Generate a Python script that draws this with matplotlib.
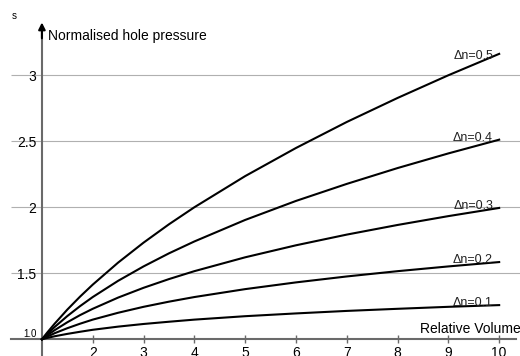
import matplotlib.pyplot as plt

plt.rcParams['font.family'] = ['Liberation Sans', 'DejaVu Sans']

# Relative volume samples and normalised hole pressure for each dilation step
volume = [1, 1.1, 1.25, 1.5, 1.75, 2, 2.5, 3, 3.5, 4, 5, 6, 7, 8, 9, 10]
pressure = {
    '0.1': [1, 1.010, 1.023, 1.041, 1.057, 1.072, 1.096, 1.116, 1.133, 1.149,
            1.175, 1.196, 1.215, 1.231, 1.246, 1.259],
    '0.2': [1, 1.019, 1.046, 1.084, 1.118, 1.149, 1.201, 1.246, 1.285, 1.320,
            1.380, 1.431, 1.476, 1.516, 1.552, 1.585],
    '0.3': [1, 1.029, 1.069, 1.129, 1.183, 1.231, 1.316, 1.390, 1.456, 1.516,
            1.621, 1.712, 1.793, 1.866, 1.933, 1.995],
    '0.4': [1, 1.039, 1.093, 1.176, 1.251, 1.320, 1.443, 1.552, 1.651, 1.741,
            1.904, 2.048, 2.177, 2.297, 2.408, 2.512],
    '0.5': [1, 1.049, 1.118, 1.225, 1.323, 1.414, 1.581, 1.732, 1.871, 2.000,
            2.236, 2.449, 2.646, 2.828, 3.000, 3.162],
}
label_y = {'0.1': 1.252, '0.2': 1.578, '0.3': 1.987, '0.4': 2.502, '0.5': 3.123}

x_ticks = [2, 3, 4, 5, 6, 7, 8, 9, 10]
y_ticks = [1.0, 1.5, 2, 2.5, 3]
y_tick_labels = ['1.0', '1.5', '2', '2.5', '3']

fig = plt.figure(figsize=(5.2, 3.56), dpi=100)
ax = fig.add_axes([0, 0, 1, 1])
xmin, xmax = 0.175, 10.41
ymin, ymax = 0.8735, 3.570
ax.set_xlim(xmin, xmax)
ax.set_ylim(ymin, ymax)

axis_col = '#6a6a6a'

# horizontal grid, starting a little left of the y axis
ax.hlines(y_ticks[1:], 0.4, xmax, color='#b0b0b0', lw=0.8, zorder=1)

for key, vals in pressure.items():
    ax.plot(volume, vals, color='black', lw=1.5, zorder=3)
    ax.text(9.88, label_y[key], '\u0394n=' + key, ha='right', va='baseline',
            fontsize=9, color='#222222', zorder=4)

# axes through (1, 1)
for side in ['top', 'right']:
    ax.spines[side].set_visible(False)
ax.spines['left'].set_position(('data', 1))
ax.spines['bottom'].set_position(('data', 1))
ax.spines['left'].set_bounds(ymin, 3.35)
ax.spines['bottom'].set_bounds(0.4, 10.33)
for side in ['left', 'bottom']:
    ax.spines[side].set_color(axis_col)
    ax.spines[side].set_linewidth(1.5)

ax.annotate('', xy=(1, 3.40), xytext=(1, 3.28),
            arrowprops=dict(arrowstyle='-|>', color='black', lw=1.5,
                            mutation_scale=10, shrinkA=0, shrinkB=0))
ax.annotate('', xy=(10.44, 1), xytext=(10.28, 1),
            arrowprops=dict(arrowstyle='-|>', color='black', lw=1.5,
                            mutation_scale=10, shrinkA=0, shrinkB=0))

ax.set_xticks(x_ticks)
ax.set_xticklabels([str(t) for t in x_ticks])
ax.tick_params(axis='x', direction='inout', length=6, width=1, color=axis_col,
               labelsize=10, pad=2)
ax.set_yticks(y_ticks)
ax.set_yticklabels(y_tick_labels)
ax.tick_params(axis='y', length=0, labelsize=10, pad=4)
ax.get_yticklabels()[0].set_fontsize(7)
ax.get_yticklabels()[0].set_verticalalignment('bottom')

ax.text(1.12, 3.30, 'Normalised hole pressure', ha='left', va='center', fontsize=10)
ax.text(0.45, 3.45, 's', ha='center', va='center', fontsize=7)
ax.text(10.42, 1.078, 'Relative Volume', ha='right', va='center', fontsize=10)

fig.savefig('out.png', dpi=100)
